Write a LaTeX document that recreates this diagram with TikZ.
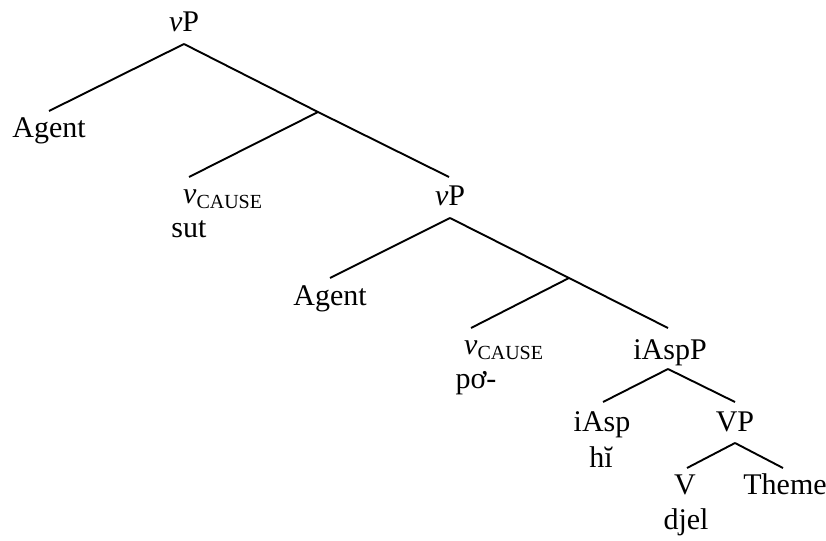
\documentclass[tikz,border=0pt]{standalone}
\usepackage{fontspec}
\setmainfont{Liberation Serif}
\newcommand\vcausetxt{\textit{v}\raisebox{-5pt}{\fontsize{20}{20}\selectfont CAUSE}}
\begin{document}
\begin{tikzpicture}[x=1pt,y=-1pt,
  every node/.style={font=\fontsize{30}{36}\selectfont, inner sep=0pt},
  lbl/.style={anchor=base},
  branch/.style={line width=1.9pt}]
\useasboundingbox (0,0) rectangle (826,540);
% labels
\node[lbl] (vp1) at (184,32) {\textit{v}P};
\coordinate (vp1b) at (184,44);
\coordinate (ag1t) at (49,111);
\node[lbl] (ag1) at (49,138) {Agent};
\coordinate (b1) at (318,112);
\coordinate (vc1t) at (189,177);
\node[anchor=base west] (vc1) at (183,203) {\vcausetxt};
\node[lbl] (sut) at (189,237) {sut};
\coordinate (vp2t) at (449,177);
\node[lbl] (vp2) at (450,205) {\textit{v}P};
\coordinate (vp2b) at (450,218);
\coordinate (ag2t) at (330,278);
\node[lbl] (ag2) at (330,305) {Agent};
\coordinate (b2) at (569,278);
\coordinate (vc2t) at (471,328);
\node[anchor=base west] (vc2) at (464,354) {\vcausetxt};
\node[lbl] (po) at (476,388) {pơ-};
\coordinate (iaspPt) at (668,328);
\node[lbl] (iaspP) at (670,359) {iAspP};
\coordinate (iaspPb) at (668,369);
\coordinate (iaspt) at (603,402);
\node[lbl] (iasp) at (602,431) {iAsp};
\node[lbl] (hi) at (601,467) {hĭ};
\coordinate (vpt) at (735,402);
\node[lbl] (vp) at (735,431) {VP};
\coordinate (vpb) at (735,443);
\coordinate (vt) at (687,468);
\node[lbl] (v) at (685,494) {V};
\node[lbl] (djel) at (686,529) {djel};
\coordinate (tht) at (783,468);
\node[lbl] (theme) at (785,494) {Theme};
% branches
\draw[branch] (vp1b) -- (ag1t);
\draw[branch] (vp1b) -- (b1) -- (vp2t);
\draw[branch] (b1) -- (vc1t);
\draw[branch] (vp2b) -- (ag2t);
\draw[branch] (vp2b) -- (b2) -- (iaspPt);
\draw[branch] (b2) -- (vc2t);
\draw[branch] (iaspPb) -- (iaspt);
\draw[branch] (iaspPb) -- (vpt);
\draw[branch] (vpb) -- (vt);
\draw[branch] (vpb) -- (tht);
\end{tikzpicture}
\end{document}
